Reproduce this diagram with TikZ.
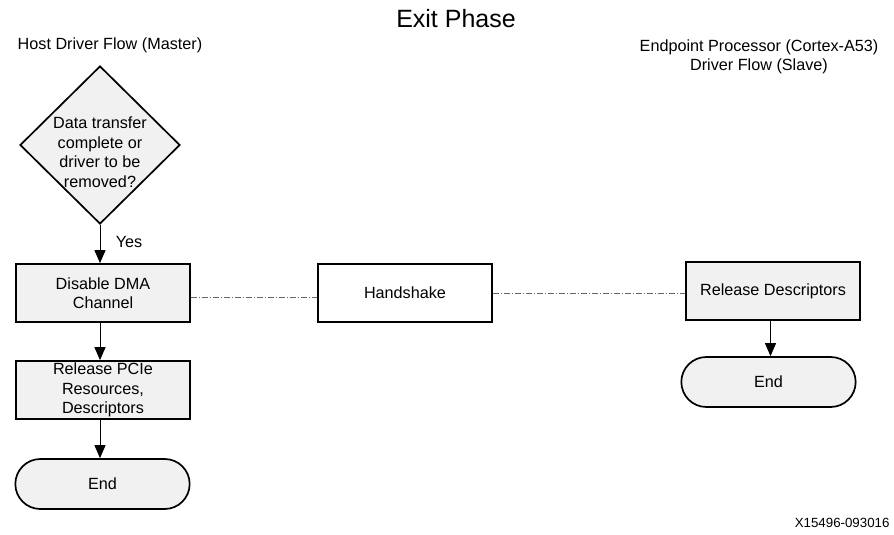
\documentclass[tikz,border=0pt]{standalone}
\usepackage{fontspec}
\setmainfont{Liberation Sans}
\usetikzlibrary{shapes.geometric,shapes.misc,arrows.meta}
\definecolor{boxgray}{HTML}{F1F1F1}

\begin{document}
\begin{tikzpicture}[x=1pt,y=-1pt,
  txt/.style={font=\fontsize{16.2}{19.5}\selectfont},
  stepbox/.style={txt,draw,line width=1.7pt,fill=boxgray,minimum width=174pt,minimum height=58pt,align=center,inner sep=1pt},
  decision/.style={draw,line width=1.7pt,fill=boxgray,diamond,minimum width=160pt,minimum height=158pt,inner sep=0pt},
  terminal/.style={txt,draw,line width=1.7pt,fill=boxgray,rounded rectangle,minimum width=181pt,minimum height=50pt},
  flow/.style={line width=1pt,-{Triangle[width=11pt,length=13pt]}},
  link/.style={gray!80!black,line width=0.7pt,dash pattern=on 6pt off 2pt on 1pt off 2pt}]
\useasboundingbox (0,0) rectangle (894,535);

% headings
\node[font=\fontsize{25}{29}\selectfont] (title) at (456,18.5) {Exit Phase};
\node[txt] (host) at (110,45) {Host Driver Flow (Master)};
\node[txt,align=center] (ep) at (759,57) {Endpoint Processor (Cortex-A53)\\Driver Flow (Slave)};

% host side
\node[decision] (dec) at (100,145) {};
\node[txt,align=center] (dectxt) at (100,152) {Data transfer\\complete or\\driver to be\\removed?};
\node[stepbox] (dis) at (103,293) {Disable DMA\\Channel};
\node[stepbox] (pcie) at (103,390) {Release PCIe\\Resources,\\Descriptors};
\node[terminal] (hend) at (102.5,484) {End};

% handshake
\node[stepbox,fill=white] (hand) at (405,293) {Handshake};

% endpoint side
\node[stepbox] (rdesc) at (773,291) {Release Descriptors};
\node[terminal] (eend) at (768.5,382) {End};

\draw[flow] (dec.south) -- (dec.south |- dis.north);
\node[txt] (yes) at (129,242) {Yes};
\draw[flow] (dis.south -| dec.south) -- (dec.south |- pcie.north);
\draw[flow] (pcie.south -| dec.south) -- (dec.south |- hend.north);
\draw[flow] (rdesc.south -| eend.north) ++(2,0) coordinate (rd) -- (rd |- eend.north);

\draw[link] ([yshift=-4pt]dis.east) -- ([yshift=-4pt]dis.east -| hand.west);
\draw[link] (hand.east) -- (hand.east -| rdesc.west);

\node[anchor=east,font=\fontsize{13.3}{15}\selectfont] (fig) at (893,523) {X15496-093016};
\end{tikzpicture}
\end{document}
